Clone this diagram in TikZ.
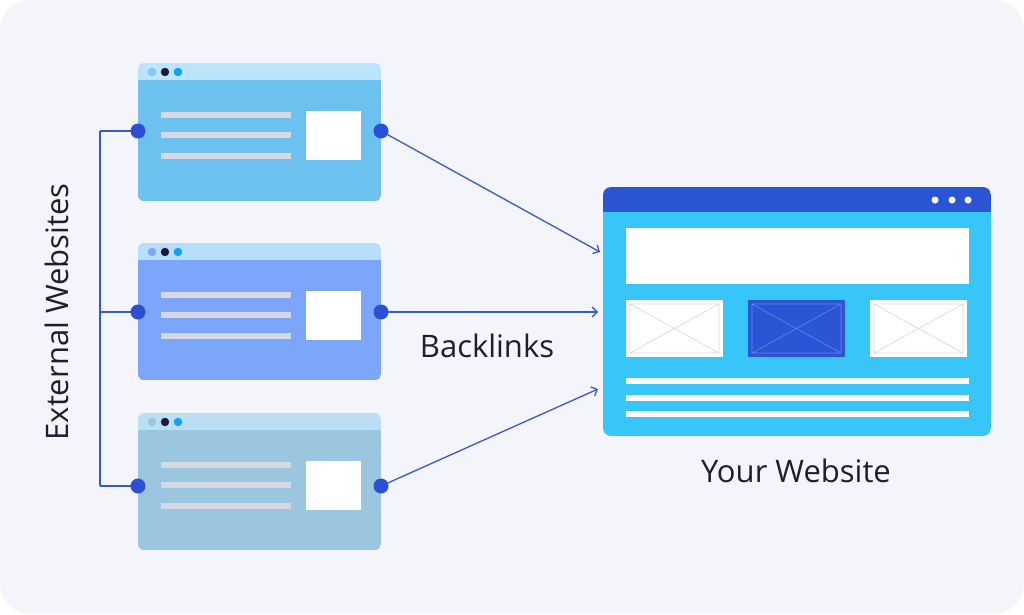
\documentclass[tikz,border=0pt]{standalone}
\usepackage{fontspec}
\setmainfont{Open Sans}
\usetikzlibrary{arrows.meta}
\definecolor{bgc}{HTML}{F4F5FA}
\definecolor{hdA}{HTML}{BCE4FA}
\definecolor{bdA}{HTML}{6CC1EF}
\definecolor{dtA}{HTML}{7FC9F0}
\definecolor{hdB}{HTML}{B8DEFA}
\definecolor{bdB}{HTML}{7BA6FA}
\definecolor{dtB}{HTML}{7EA6F6}
\definecolor{hdC}{HTML}{BADFF4}
\definecolor{bdC}{HTML}{9BC6DF}
\definecolor{dtC}{HTML}{9EC6DE}
\definecolor{navy}{HTML}{1B1A3A}
\definecolor{brightb}{HTML}{0AA5F2}
\definecolor{linec}{HTML}{D5D9E6}
\definecolor{conn}{HTML}{3A59C9}
\definecolor{cdot}{HTML}{2B50D4}
\definecolor{webhd}{HTML}{2B55D5}
\definecolor{webbd}{HTML}{38C5F8}
\definecolor{xgrey}{HTML}{D6D8E3}
\definecolor{xblue}{HTML}{6185EA}
\definecolor{txt}{HTML}{1E1F2B}
\newcommand\extwin[7]{% name, top, bottom, header, body, dot1, connector-dot y
  \node[inner sep=0pt, outer sep=0pt, minimum width=243pt, minimum height={#3-#2}]
    (#1) at (259.5,{(#2+#3)/2}) {};
  \begin{scope}
    \clip[rounded corners=6pt] (138,#2) rectangle (381,#3);
    \fill[#4] (138,#2) rectangle (381,#2+17);
    \fill[#5] (138,#2+17) rectangle (381,#3);
  \end{scope}
  \fill[#6] (152,#2+9) circle (4.2pt);
  \fill[navy] (165,#2+9) circle (4.2pt);
  \fill[brightb] (178,#2+9) circle (4.2pt);
  \fill[linec] (161,#2+49) rectangle (291,#2+55);
  \fill[linec] (161,#2+69) rectangle (291,#2+75);
  \fill[linec] (161,#2+90) rectangle (291,#2+96);
  \fill[white] (306,#2+48) rectangle (361,#2+97);
  \coordinate (#1l) at (138,#7);
  \coordinate (#1r) at (381,#7);
}
\newcommand\imgbox[4]{% x1, x2, fill, cross colour
  \fill[#3] (#1,300) rectangle (#2,357);
  \draw[#4, line width=0.6pt] (#1+4,304) rectangle (#2-4,353)
    (#1+4,304) -- (#2-4,353) (#1+4,353) -- (#2-4,304);
}
\begin{document}
\begin{tikzpicture}[x=1pt,y=-1pt,
  cdotst/.style={circle, fill=cdot, inner sep=0pt, minimum size=15pt},
  connline/.style={draw=conn, line width=1.3pt},
  arrowline/.style={connline, -{Straight Barb[length=5pt,width=10pt,line width=1.3pt]}},
  label/.style={font=\fontsize{31}{31}\selectfont, text=txt, inner sep=0pt}]
\useasboundingbox (0,0) rectangle (1024,614);
\fill[white] (0,0) rectangle (1024,614);
\fill[bgc, rounded corners=30pt] (0,0) rectangle (1024,614);

\coordinate (b1) at (100,131);
\coordinate (b2) at (100,312);
\coordinate (b3) at (100,486);

\extwin{wa}{63}{201}{hdA}{bdA}{dtA}{131}
\extwin{wb}{243}{380}{hdB}{bdB}{dtB}{312}
\extwin{wc}{413}{550}{hdC}{bdC}{dtC}{486}

% your website
\node[inner sep=0pt, minimum width=388pt, minimum height=249pt] (web) at (797,311.5) {};
\begin{scope}
  \clip[rounded corners=8pt] (603,187) rectangle (991,436);
  \fill[webhd] (603,187) rectangle (991,212);
  \fill[webbd] (603,212) rectangle (991,436);
\end{scope}
\fill[white] (935,200) circle (3.5pt) (952,200) circle (3.5pt) (968,200) circle (3.5pt);
\fill[white] (626,228) rectangle (969,284);
\imgbox{626}{723}{white}{xgrey}
\imgbox{748}{845}{webhd}{xblue}
\imgbox{870}{967}{white}{xgrey}
\fill[white] (626,378) rectangle (969,384);
\fill[white] (626,395) rectangle (969,401);
\fill[white] (626,411) rectangle (969,417);

\coordinate (t1) at (600,252);
\coordinate (t2) at (598,312);
\coordinate (t3) at (598,389);

\draw[connline] (b1) -- (b3);
\draw[connline] (b1) -- (wal);
\draw[connline] (b2) -- (wbl);
\draw[connline] (b3) -- (wcl);
\draw[arrowline] (war) -- (t1);
\draw[arrowline] (wbr) -- (t2);
\draw[arrowline] (wcr) -- (t3);
\node[cdotst] (da) at (wal) {};
\node[cdotst] (db) at (wbl) {};
\node[cdotst] (dc) at (wcl) {};
\node[cdotst] (ea) at (war) {};
\node[cdotst] (eb) at (wbr) {};
\node[cdotst] (ec) at (wcr) {};

\node[label, rotate=90] (ext) at (57,312) {External Websites};
\node[label] (bl) at (487,346) {Backlinks};
\node[label] (yw) at (796,471) {Your Website};
\end{tikzpicture}
\end{document}
